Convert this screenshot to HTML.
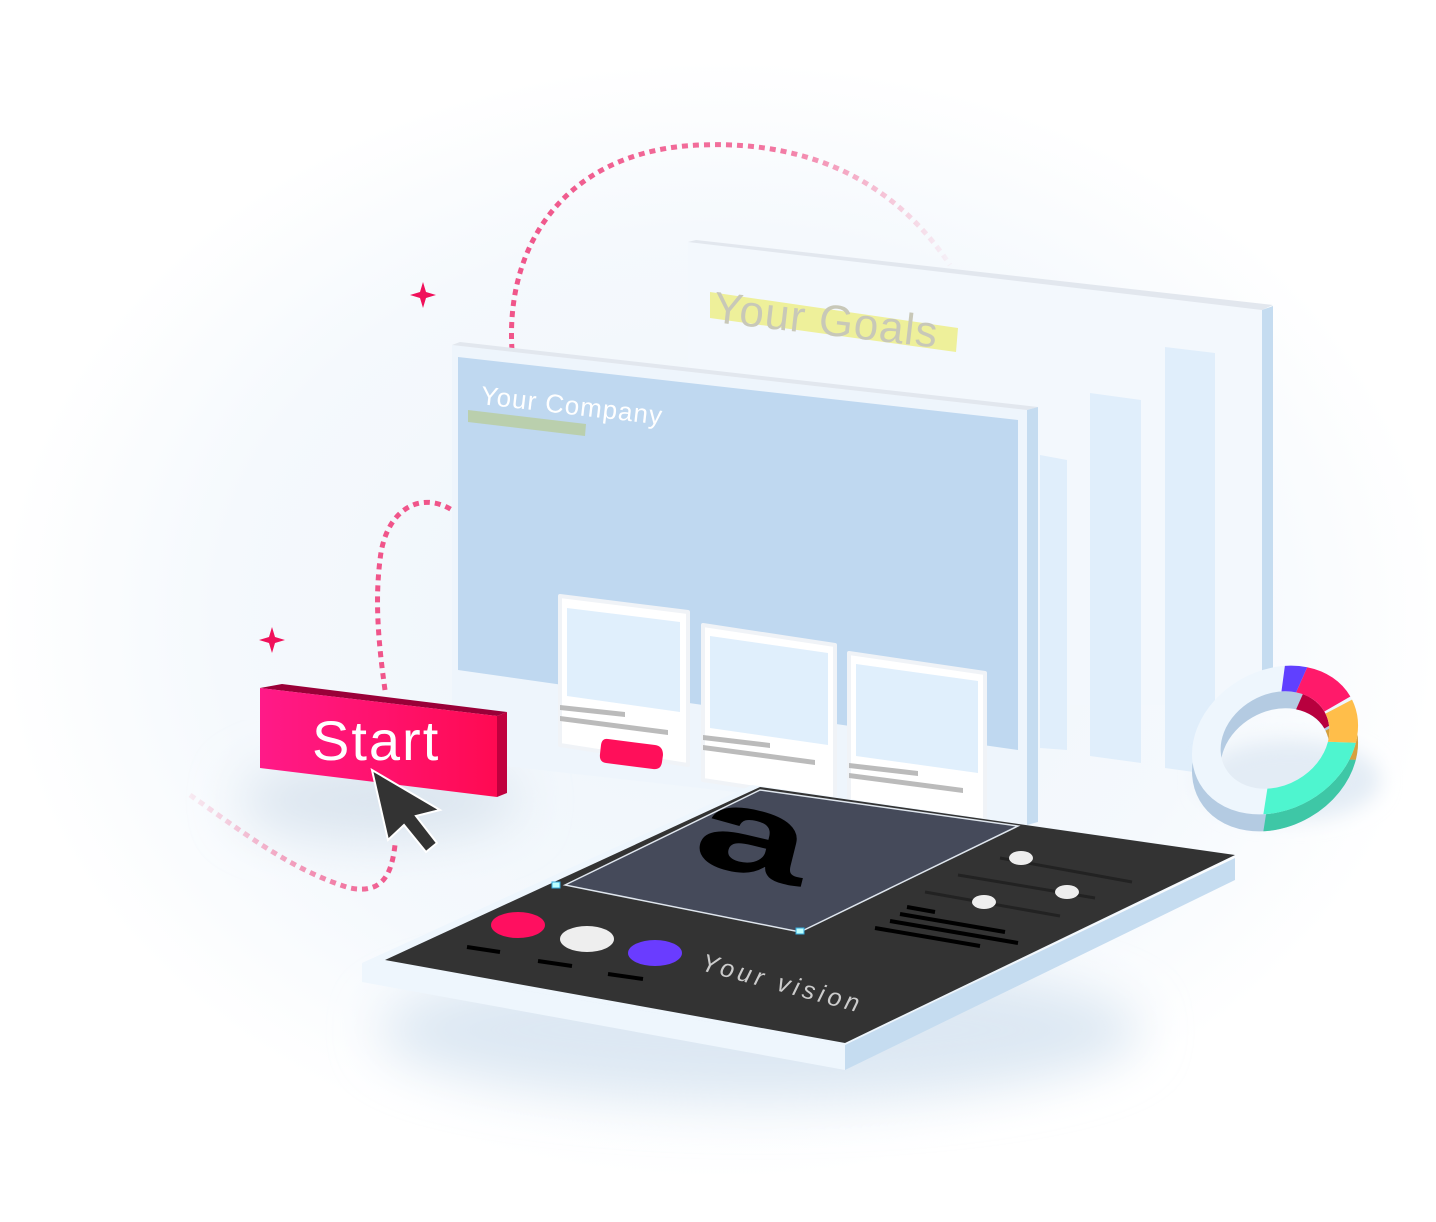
<!DOCTYPE html>
<html><head><meta charset="utf-8"><style>
html,body{margin:0;padding:0;background:#fff;}
svg{display:block;font-family:"Liberation Sans",sans-serif;}
</style></head><body>
<svg width="1436" height="1222" viewBox="0 0 1436 1222" xmlns="http://www.w3.org/2000/svg">
<defs>
<radialGradient id="bg" cx="0.5" cy="0.5" r="0.5">
<stop offset="0" stop-color="#eef5fb"/><stop offset="0.7" stop-color="#f5f9fd"/><stop offset="1" stop-color="#ffffff"/>
</radialGradient>
<linearGradient id="btn" x1="0" x2="1"><stop offset="0" stop-color="#ff1a88"/><stop offset="1" stop-color="#ff0a52"/></linearGradient>
<linearGradient id="fadeR" x1="0" x2="1"><stop offset="0" stop-color="#f0558a"/><stop offset="0.6" stop-color="#f0558a" stop-opacity="0.8"/><stop offset="1" stop-color="#f0558a" stop-opacity="0.05"/></linearGradient>
<linearGradient id="fadeL" x1="1" x2="0"><stop offset="0" stop-color="#f0558a"/><stop offset="1" stop-color="#f0558a" stop-opacity="0.1"/></linearGradient>
<filter id="blur" x="-50%" y="-50%" width="200%" height="200%"><feGaussianBlur stdDeviation="25"/></filter>
<filter id="blur2" x="-50%" y="-50%" width="200%" height="200%"><feGaussianBlur stdDeviation="10"/></filter>
</defs>
<rect width="1436" height="1222" fill="#fff"/>
<ellipse cx="720" cy="620" rx="720" ry="560" fill="url(#bg)"/>
<ellipse cx="760" cy="1030" rx="380" ry="70" fill="#dde8f3" filter="url(#blur)"/>
<ellipse cx="380" cy="800" rx="140" ry="40" fill="#dbe5ef" filter="url(#blur)"/>

<path d="M512,350 C505,240 570,150 700,145 C820,140 900,190 950,265" fill="none" stroke="url(#fadeR)" stroke-width="5" stroke-dasharray="6 5"/>
<path d="M385,690 C378,640 375,600 380,560 C385,510 420,490 452,510" fill="none" stroke="#f0558a" stroke-width="5" stroke-dasharray="6 5"/>
<path d="M190,795 C240,830 290,870 350,888 C385,895 392,870 395,845" fill="none" stroke="url(#fadeL)" stroke-width="5" stroke-dasharray="6 5"/>

<path d="M423,282 L426,292 L436,295 L426,298 L423,308 L420,298 L410,295 L420,292 Z" fill="#f0105a"/>
<path d="M272,627 L275,637 L285,640 L275,643 L272,653 L269,643 L259,640 L269,637 Z" fill="#f0105a"/>

<polygon points="688,242 1262,306 1273,310 1273,705 688,705" fill="#f3f8fd"/>
<polygon points="688,242 696,240 1273,305 1262,310" fill="#e2e7ee"/>
<polygon points="1262,310 1273,306 1273,700 1262,705" fill="#c5dcf0"/>
<polygon points="710,292 958,328 956,352 710,318" fill="#eef09a"/>
<text x="712" y="322" font-size="44" fill="#c8c8b8" transform="rotate(6.5 712 322)" letter-spacing="1">Your Goals</text>
<polygon points="1090,393 1141,400 1141,763 1090,756" fill="#e0eefb"/>
<polygon points="1165,347 1215,353 1215,775 1165,768" fill="#e0eefb"/>
<polygon points="1040,455 1067,460 1067,750 1040,748" fill="#e0eefb"/>

<polygon points="452,345 1027,410 1027,825 452,760" fill="#eef5fc"/>
<polygon points="452,345 460,342 1038,407 1027,410" fill="#e2e7ee"/>
<polygon points="1027,410 1038,407 1038,822 1027,825" fill="#c5dcf0"/>
<polygon points="458,357 1018,420 1018,750 458,670" fill="#bfd8f0"/>
<polygon points="468,410 586,424 585,436 468,422" fill="#b9cd9c" opacity="0.8"/>
<text x="480" y="404" font-size="26" fill="#fff" letter-spacing="1" transform="rotate(6.5 480 404)">Your Company</text>

<g>
<rect x="570" y="605" width="122" height="165" rx="8" fill="#dfe9f3" transform="skewY(7.2)" opacity="0" />
<polygon points="560,596 688,612 688,765 560,745" fill="#fff" stroke="#f0f3f7" stroke-width="4" stroke-linejoin="round"/>
<polygon points="567,608 680,622 680,712 567,696" fill="#e0effc"/>
<polygon points="560,705 625,712 625,717 560,710" fill="#bbb"/>
<polygon points="560,716 668,730 668,735 560,721" fill="#bbb"/>
<path d="M608,739 L655,745 Q663,746 663,755 L662,762 Q661,770 653,769 L606,763 Q599,762 600,754 L601,745 Q602,738 608,739 Z" fill="#ff0f5a"/>
<polygon points="703,625 835,645 835,800 703,780" fill="#fff" stroke="#f0f3f7" stroke-width="4" stroke-linejoin="round"/>
<polygon points="710,636 828,653 828,745 710,728" fill="#e0effc"/>
<polygon points="703,735 770,743 770,748 703,740" fill="#bbb"/>
<polygon points="703,745 815,760 815,765 703,750" fill="#bbb"/>
<polygon points="849,653 985,673 985,830 849,810" fill="#fff" stroke="#f0f3f7" stroke-width="4" stroke-linejoin="round"/>
<polygon points="856,664 978,681 978,773 856,756" fill="#e0effc"/>
<polygon points="849,763 918,771 918,776 849,768" fill="#bbb"/>
<polygon points="849,773 963,788 963,793 849,778" fill="#bbb"/>
</g>

<polygon points="362,963 845,1045 845,1070 362,982" fill="#eef6fd"/>
<polygon points="845,1045 1235,858 1235,880 845,1070" fill="#c5dcf0"/>
<polygon points="362,963 752,785 1235,855 845,1045" fill="#eef6fd"/>
<polygon points="385,960 760,787 1235,855 845,1043" fill="#333"/>
<polygon points="565,885 760,790 1018,826 800,932" fill="#454a5a" stroke="#dfe6ee" stroke-width="1.5"/>
<rect x="552" y="882" width="8" height="6" fill="#bff" stroke="#3ad" />
<rect x="796" y="928" width="8" height="6" fill="#bff" stroke="#3ad"/>
<text x="0" y="0" font-size="150" font-weight="bold" fill="#000" transform="translate(690,860) rotate(14) scale(1.35,0.8)">a</text>

<line x1="1000" y1="858" x2="1132" y2="882" stroke="#222" stroke-width="3"/>
<line x1="958" y1="875" x2="1095" y2="898" stroke="#222" stroke-width="3"/>
<line x1="925" y1="892" x2="1060" y2="916" stroke="#222" stroke-width="3"/>
<ellipse cx="1021" cy="858" rx="12" ry="7" fill="#eee"/>
<ellipse cx="1067" cy="892" rx="12" ry="7" fill="#eee"/>
<ellipse cx="984" cy="902" rx="12" ry="7" fill="#eee"/>
<g stroke="#000" stroke-width="4">
<line x1="907" y1="907" x2="935" y2="912"/>
<line x1="900" y1="914" x2="1005" y2="932"/>
<line x1="890" y1="921" x2="1018" y2="943"/>
<line x1="875" y1="928" x2="980" y2="946"/>
</g>
<ellipse cx="518" cy="925" rx="27" ry="13" fill="#ff0f60"/>
<ellipse cx="587" cy="939" rx="27" ry="13" fill="#eee"/>
<ellipse cx="655" cy="953" rx="27" ry="13" fill="#6a3cff"/>
<g stroke="#000" stroke-width="4">
<line x1="467" y1="947" x2="500" y2="952"/>
<line x1="538" y1="961" x2="572" y2="966"/>
<line x1="608" y1="974" x2="643" y2="979"/>
</g>
<text x="700" y="970" font-size="25" fill="#ccc" letter-spacing="4" font-style="italic" transform="rotate(15 700 970)">Your vision</text>

<polygon points="260,688 282,684 507,712 497,716" fill="#9a0038"/>
<polygon points="497,716 507,712 507,793 497,797" fill="#c0003e"/>
<polygon points="260,688 497,716 497,797 260,768" fill="url(#btn)"/>
<text x="312" y="760" font-size="56" fill="#fff" letter-spacing="2">Start</text>
<path d="M372,770 L440,810 L416,816 L437,843 L426,852 L404,825 L388,840 Z" fill="#333" stroke="#fff" stroke-width="2"/>

<ellipse cx="1290" cy="780" rx="90" ry="40" fill="#e3ecf5" filter="url(#blur2)"/>
<g transform="translate(1275,757) rotate(-30) scale(1,0.8)">
<circle r="72" fill="none" stroke="#b4cbe2" stroke-width="30"/>
<circle r="72" fill="none" stroke="#3ec7a6" stroke-width="30" pathLength="360" stroke-dasharray="85 360" stroke-dashoffset="-38"/>
<circle r="72" fill="none" stroke="#d6a03e" stroke-width="30" pathLength="360" stroke-dasharray="35 360" stroke-dashoffset="-3"/>
<circle r="72" fill="none" stroke="#b8003e" stroke-width="30" pathLength="360" stroke-dasharray="45 360" stroke-dashoffset="-318"/>
</g>
<g transform="translate(1275,740) rotate(-30) scale(1,0.8)">
<circle r="72" fill="none" stroke="#eef6fd" stroke-width="30"/>
<circle r="72" fill="none" stroke="#4ef5cf" stroke-width="30" pathLength="360" stroke-dasharray="85 360" stroke-dashoffset="-38"/>
<circle r="72" fill="none" stroke="#ffbe4a" stroke-width="30" pathLength="360" stroke-dasharray="35 360" stroke-dashoffset="-3"/>
<circle r="72" fill="none" stroke="#ff1a6a" stroke-width="30" pathLength="360" stroke-dasharray="45 360" stroke-dashoffset="-318"/>
<circle r="72" fill="none" stroke="#6040ff" stroke-width="30" pathLength="360" stroke-dasharray="16 360" stroke-dashoffset="-302"/>
</g>
</svg>
</body></html>
